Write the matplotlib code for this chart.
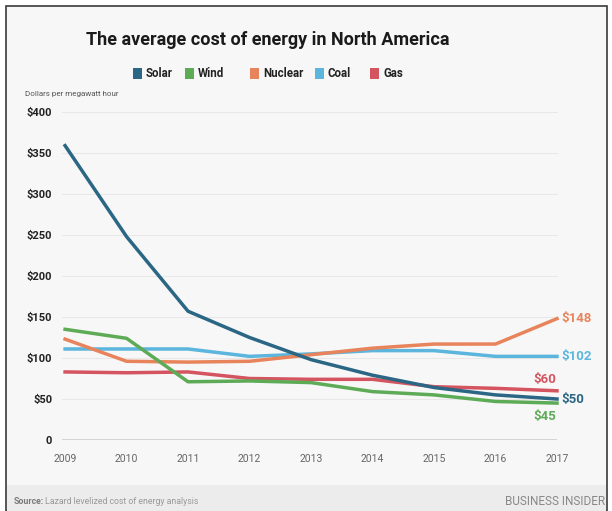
import matplotlib.pyplot as plt
from matplotlib.patches import Rectangle

# data
years = [2009, 2010, 2011, 2012, 2013, 2014, 2015, 2016, 2017]
solar = [359, 248, 157, 125, 98, 79, 64, 55, 50]
wind = [135, 124, 71, 72, 70, 59, 55, 47, 45]
nuclear = [123, 96, 95, 96, 104, 112, 117, 117, 148]
coal = [111, 111, 111, 102, 105, 109, 109, 102, 102]
gas = [83, 82, 83, 75, 74, 74, 65, 63, 60]

series_names = ["Solar", "Wind", "Nuclear", "Coal", "Gas"]
series_values = [solar, wind, nuclear, coal, gas]
colors = ["#2b6684", "#5eab57", "#e8845b", "#5bb5dd", "#d4545f"]
y_ticks = [0, 50, 100, 150, 200, 250, 300, 350, 400]
y_tick_labels = ["0"] + [f"${v}" for v in y_ticks[1:]]

plt.rcParams["font.family"] = ["Roboto", "DejaVu Sans"]

W, H = 612, 511
fig = plt.figure(figsize=(W / 100, H / 100), dpi=100)
fig.patch.set_facecolor("white")


def px(x, y):
    return x / W, 1 - y / H


# card background, border and footer band
fig.patches.append(Rectangle(px(6, 511), 601 / W, 505 / H, transform=fig.transFigure,
                             facecolor="#f7f7f7", edgecolor="#3a3a3a", linewidth=1.2, zorder=-2))
fig.patches.append(Rectangle(px(7, 511), 599 / W, 26 / H, transform=fig.transFigure,
                             facecolor="#ececec", edgecolor="none", zorder=-1))

ax = fig.add_axes([62 / W, 1 - 440 / H, (557 - 62) / W, (440 - 112) / H])
ax.set_zorder(2)
ax.set_facecolor("none")
for spine in ax.spines.values():
    spine.set_visible(False)
ax.set_xlim(2008.95, 2017)
ax.set_ylim(0, 400)
ax.set_yticks(y_ticks)
ax.set_yticklabels(y_tick_labels, fontsize=8, fontweight="bold", color="#222222")
ax.set_xticks(years)
ax.set_xticklabels([str(y) for y in years], fontsize=7.5, color="#666666")
ax.tick_params(axis="y", length=0, pad=7)
ax.tick_params(axis="x", length=0, pad=10)
for t in y_ticks[1:]:
    ax.axhline(t, color="#e8e8e8", linewidth=0.8, zorder=1, clip_on=False)
ax.axhline(0, color="#cfcfcf", linewidth=1.2, zorder=1)

order = [3, 2, 4, 1, 0]
for i in order:
    ax.plot(years, series_values[i], color=colors[i], linewidth=2.5, zorder=3 + order.index(i),
            solid_joinstyle="round", clip_on=False)

# end labels
end_offsets = {"Nuclear": (3, 0), "Coal": (3, 0), "Gas": (-17, 8), "Solar": (3, 0), "Wind": (-17, -10)}
for name, vals, c in zip(series_names, series_values, colors):
    dx, dy = end_offsets[name]
    ax.annotate(f"${vals[-1]}", (years[-1], vals[-1]), xytext=(dx, dy), textcoords="offset points",
                ha="left", va="center", fontsize=9.5, fontweight="bold", color=c)

# title and legend
fig.text(*px(268, 40), "The average cost of energy in North America", ha="center", va="center",
         fontsize=13, fontweight="bold", color="#1a1a1a")
legend_x = [133, 185, 250, 315, 370]
for name, c, lx in zip(series_names, colors, legend_x):
    fig.patches.append(Rectangle(px(lx, 79), 9 / W, 11 / H, transform=fig.transFigure,
                                 facecolor=c, edgecolor="none"))
    fig.text(*px(lx + 13, 73.5), name, ha="left", va="center", fontsize=8.3, fontweight="bold",
             color="#222222")

fig.text(*px(25, 94), "Dollars per megawatt hour", ha="left", va="center", fontsize=5.8,
         color="#555555")

# footer
fig.text(*px(14, 501), "Source:", ha="left", va="center", fontsize=6.3, fontweight="bold", color="#7a7a7a")
fig.text(*px(45, 501), "Lazard levelized cost of energy analysis", ha="left", va="center",
         fontsize=6.3, color="#999999")
fig.text(*px(605, 501), "BUSINESS INSIDER", ha="right", va="center",
         fontsize=8.5, color="#888888")

fig.savefig("out.png", dpi=100, facecolor="white")
